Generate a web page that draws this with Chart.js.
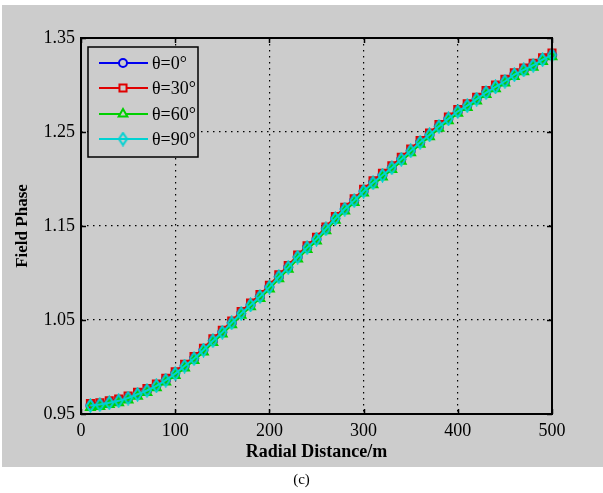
<!DOCTYPE html>
<html>
<head>
<meta charset="utf-8">
<script src="https://cdn.jsdelivr.net/npm/chart.js@4/dist/chart.umd.min.js"></script>
<style>
    html, body { margin: 0; padding: 0; background: #fff; }
    #wrap { position: relative; width: 603px; height: 493px; }
    #caption { position: absolute; left: 0; top: 471px; width: 603px; text-align: center; font: 15px "Liberation Serif", serif; color: #000; }
</style>
</head>
<body>
<div id="wrap">
    <canvas id="phaseChart" width="603" height="493"></canvas>
    <div id="caption">(c)</div>
</div>
<script>
// Radial distance samples (m)
const distances = [
    10, 20, 30, 40, 50, 60, 70, 80, 90, 100,
    110, 120, 130, 140, 150, 160, 170, 180, 190, 200,
    210, 220, 230, 240, 250, 260, 270, 280, 290, 300,
    310, 320, 330, 340, 350, 360, 370, 380, 390, 400,
    410, 420, 430, 440, 450, 460, 470, 480, 490, 500,
];

const phaseTheta0 = [
    0.959, 0.960, 0.962, 0.964, 0.967, 0.971, 0.975, 0.980, 0.986, 0.993,
    1.001, 1.009, 1.018, 1.028, 1.037, 1.047, 1.057, 1.066, 1.075, 1.085,
    1.096, 1.106, 1.117, 1.127, 1.136, 1.147, 1.158, 1.168, 1.177, 1.187,
    1.196, 1.204, 1.212, 1.221, 1.230, 1.239, 1.247, 1.256, 1.264, 1.272,
    1.278, 1.285, 1.292, 1.298, 1.304, 1.311, 1.316, 1.321, 1.327, 1.332,
];

const phaseTheta30 = [
    0.961, 0.962, 0.964, 0.966, 0.969, 0.973, 0.977, 0.982, 0.988, 0.995,
    1.003, 1.011, 1.020, 1.030, 1.039, 1.049, 1.059, 1.068, 1.077, 1.087,
    1.098, 1.108, 1.119, 1.129, 1.138, 1.149, 1.160, 1.170, 1.179, 1.189,
    1.198, 1.206, 1.214, 1.223, 1.232, 1.241, 1.249, 1.258, 1.266, 1.274,
    1.280, 1.287, 1.294, 1.300, 1.306, 1.313, 1.318, 1.323, 1.329, 1.334,
];

const phaseTheta60 = [
    0.957, 0.958, 0.960, 0.962, 0.965, 0.969, 0.973, 0.978, 0.984, 0.991,
    0.999, 1.007, 1.016, 1.026, 1.035, 1.045, 1.055, 1.064, 1.073, 1.083,
    1.094, 1.104, 1.115, 1.125, 1.134, 1.145, 1.156, 1.166, 1.175, 1.185,
    1.194, 1.202, 1.210, 1.219, 1.228, 1.237, 1.245, 1.254, 1.262, 1.270,
    1.276, 1.283, 1.290, 1.296, 1.302, 1.309, 1.314, 1.319, 1.325, 1.330,
];

const phaseTheta90 = [
    0.959, 0.960, 0.962, 0.964, 0.967, 0.971, 0.975, 0.980, 0.986, 0.993,
    1.001, 1.009, 1.018, 1.028, 1.037, 1.047, 1.057, 1.066, 1.075, 1.085,
    1.096, 1.106, 1.117, 1.127, 1.136, 1.147, 1.158, 1.168, 1.177, 1.187,
    1.196, 1.204, 1.212, 1.221, 1.230, 1.239, 1.247, 1.256, 1.264, 1.272,
    1.278, 1.285, 1.292, 1.298, 1.304, 1.311, 1.316, 1.321, 1.327, 1.332,
];

const seriesLabels = ['θ=0°', 'θ=30°', 'θ=60°', 'θ=90°'];
const xTicks = [0, 100, 200, 300, 400, 500];
const yTicks = [0.95, 1.05, 1.15, 1.25, 1.35];

const BLUE = '#0000f0';
const RED = '#e00000';
const GREEN = '#00d000';
const CYAN = '#00d2d2';
const SERIF = '"Liberation Serif", "Times New Roman", serif';

// narrow matlab-like diamond marker
function makeDiamond(color) {
    const c = document.createElement('canvas');
    c.width = 11;
    c.height = 15;
    const g = c.getContext('2d');
    g.strokeStyle = color;
    g.lineWidth = 2;
    g.beginPath();
    g.moveTo(5.5, 1.5);
    g.lineTo(9.5, 7.5);
    g.lineTo(5.5, 13.5);
    g.lineTo(1.5, 7.5);
    g.closePath();
    g.stroke();
    return c;
}

const diamond = makeDiamond(CYAN);

function toPoints(values) {
    return values.map((v, i) => ({ x: distances[i], y: v }));
}

function series(label, values, color, style, radius, order) {
    return {
        label,
        data: toPoints(values),
        borderColor: color,
        backgroundColor: 'rgba(0,0,0,0)',
        pointBorderColor: color,
        pointBackgroundColor: 'rgba(0,0,0,0)',
        borderWidth: 2,
        pointBorderWidth: 2,
        pointStyle: style,
        pointRadius: radius,
        tension: 0,
        order,
        clip: 8,
    };
}

const datasets = [
    series(seriesLabels[0], phaseTheta0, BLUE, 'circle', 4, 4),
    series(seriesLabels[1], phaseTheta30, RED, 'rect', 5, 3),
    series(seriesLabels[2], phaseTheta60, GREEN, 'triangle', 5, 2),
    series(seriesLabels[3], phaseTheta90, CYAN, diamond, 6, 1),
];

const isEdge = (value, list) => value === list[0] || value === list[list.length - 1];

const framePlugin = {
    id: 'frame',
    beforeDraw(chart) {
        const ctx = chart.ctx;
        ctx.save();
        ctx.fillStyle = '#ffffff';
        ctx.fillRect(0, 0, chart.width, chart.height);
        ctx.fillStyle = '#cccccc';
        ctx.fillRect(2, 5, 601, 462);
        ctx.restore();
    },
    afterDatasetsDraw(chart) {
        const ctx = chart.ctx;
        const area = chart.chartArea;
        const xs = chart.scales.x;
        const ys = chart.scales.y;

        ctx.save();
        ctx.strokeStyle = '#000';
        ctx.lineWidth = 1.5;
        ctx.beginPath();
        xTicks.forEach(t => {
            const px = Math.round(xs.getPixelForValue(t)) + 0.5;
            ctx.moveTo(px, area.bottom);
            ctx.lineTo(px, area.bottom - 5);
            ctx.moveTo(px, area.top);
            ctx.lineTo(px, area.top + 5);
        });
        yTicks.forEach(t => {
            const py = Math.round(ys.getPixelForValue(t)) + 0.5;
            ctx.moveTo(area.left, py);
            ctx.lineTo(area.left + 5, py);
            ctx.moveTo(area.right, py);
            ctx.lineTo(area.right - 5, py);
        });
        ctx.stroke();

        ctx.lineWidth = 2;
        ctx.strokeRect(area.left, area.top, area.right - area.left, area.bottom - area.top);

        // legend, top-left inside the axes
        const box = { x: 88, y: 47, w: 110, h: 110 };
        ctx.fillStyle = '#cccccc';
        ctx.fillRect(box.x, box.y, box.w, box.h);
        ctx.lineWidth = 1.5;
        ctx.strokeRect(box.x, box.y, box.w, box.h);

        const rowY = [63, 88, 114, 139];
        chart.data.datasets.forEach((ds, i) => {
            const y = rowY[i];
            ctx.strokeStyle = ds.borderColor;
            ctx.lineWidth = 2;
            ctx.beginPath();
            ctx.moveTo(99, y);
            ctx.lineTo(148, y);
            ctx.stroke();
            ctx.fillStyle = '#cccccc';
            Chart.helpers.drawPoint(ctx, {
                pointStyle: ds.pointStyle,
                radius: ds.pointRadius,
                borderWidth: 2,
                rotation: 0,
            }, 123, y);
            ctx.fillStyle = '#000';
            ctx.font = '18px ' + SERIF;
            ctx.textBaseline = 'middle';
            ctx.textAlign = 'left';
            ctx.fillText(ds.label, 152, y + 1);
        });
        ctx.restore();
    },
};

const canvas = document.getElementById('phaseChart');

new Chart(canvas, {
    type: 'line',
    data: { datasets },
    options: {
        responsive: false,
        animation: false,
        layout: {
            padding: { left: 0, top: 38, right: 51, bottom: 0 },
        },
        scales: {
            x: {
                type: 'linear',
                min: 0,
                max: 500,
                afterFit: scale => { scale.height = 79; },
                afterBuildTicks: scale => { scale.ticks = xTicks.map(value => ({ value })); },
                ticks: {
                    color: '#000',
                    padding: 6,
                    font: { family: SERIF, size: 18 },
                    maxRotation: 0,
                },
                grid: {
                    drawTicks: false,
                    color: ctx => isEdge(ctx.tick.value, xTicks) ? 'rgba(0,0,0,0)' : '#000',
                    lineWidth: 1.2,
                },
                border: { display: false, dash: [1.5, 4.5] },
                title: {
                    display: true,
                    text: 'Radial Distance/m',
                    color: '#000',
                    font: { family: SERIF, size: 18, weight: 'bold' },
                    padding: { top: 0, bottom: 30 },
                },
            },
            y: {
                type: 'linear',
                min: 0.95,
                max: 1.35,
                afterFit: scale => { scale.width = 81; },
                afterBuildTicks: scale => { scale.ticks = yTicks.map(value => ({ value })); },
                ticks: {
                    color: '#000',
                    padding: 6,
                    font: { family: SERIF, size: 18 },
                    callback: value => Number(value).toFixed(2),
                },
                grid: {
                    drawTicks: false,
                    color: ctx => isEdge(ctx.tick.value, yTicks) ? 'rgba(0,0,0,0)' : '#000',
                    lineWidth: 1.2,
                },
                border: { display: false, dash: [1.5, 4.5] },
                title: {
                    display: true,
                    text: 'Field Phase',
                    color: '#000',
                    font: { family: SERIF, size: 17, weight: 'bold' },
                    padding: { top: 12, bottom: 0 },
                },
            },
        },
        plugins: {
            legend: { display: false },
            tooltip: { enabled: false },
        },
    },
    plugins: [framePlugin],
});
</script>
</body>
</html>
